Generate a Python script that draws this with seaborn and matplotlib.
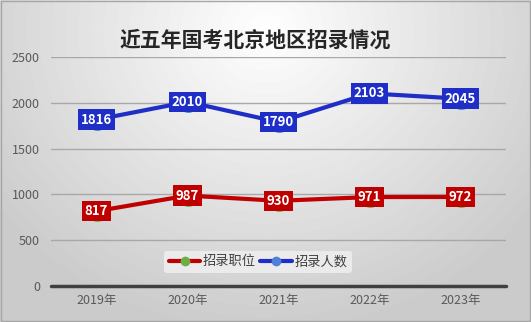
import numpy as np
import pandas as pd
import matplotlib
matplotlib.use("Agg")
import matplotlib.pyplot as plt
import seaborn as sns

years = ["2019年", "2020年", "2021年", "2022年", "2023年"]
positions = [817, 987, 930, 971, 972]    # 招录职位
people = [1816, 2010, 1790, 2103, 2045]  # 招录人数
series_names = ["招录职位", "招录人数"]
y_ticks = [0, 500, 1000, 1500, 2000, 2500]

sns.set_theme(style="white")
plt.rcParams["font.family"] = ["Noto Sans CJK SC", "DejaVu Sans"]

df = pd.DataFrame({
    "year": years * 2,
    "value": positions + people,
    "series": [series_names[0]] * len(years) + [series_names[1]] * len(years),
})
df["x"] = np.tile(np.arange(len(years)), 2)

fig = plt.figure(figsize=(5.31, 3.22), dpi=100)

# radial grey background
bg = fig.add_axes([0, 0, 1, 1], zorder=-10)
yy, xx = np.mgrid[0:322, 0:531]
r = np.sqrt(((xx - 265) / 330.0) ** 2 + ((yy - 30) / 300.0) ** 2)
shade = np.clip(1.0 - 0.2 * r, 0.8, 1.0)
bg.imshow(shade, cmap="gray", vmin=0, vmax=1, aspect="auto",
          extent=[0, 1, 0, 1], origin="upper")
bg.set_xlim(0, 1); bg.set_ylim(0, 1)
bg.axis("off")
bg.add_patch(plt.Rectangle((0.001, 0.002), 0.997, 0.995, fill=False,
                           edgecolor="#a6a6a6", lw=1.0, transform=bg.transAxes))

ax = fig.add_axes([51 / 531, 1 - 286 / 322, 455 / 531, 229 / 322])
ax.patch.set_alpha(0)

line_colors = {"招录职位": "#c00000", "招录人数": "#1f2ec6"}
marker_colors = {"招录职位": "#70ad47", "招录人数": "#4f7fd6"}

for name in series_names:
    sub = df[df["series"] == name]
    sns.lineplot(data=sub, x="x", y="value", ax=ax, color=line_colors[name],
                 lw=3, marker="o", markersize=15,
                 markerfacecolor=marker_colors[name], markeredgewidth=0,
                 label=name, zorder=3)
    for xv, v in zip(sub["x"], sub["value"]):
        ax.text(xv, v, str(v), ha="center", va="center", color="white",
                fontsize=9.5, fontweight="bold", zorder=5,
                bbox=dict(boxstyle="square,pad=0.25", fc=line_colors[name],
                          ec="none"))

ax.set_xlim(-0.5, len(years) - 0.5)
ax.set_ylim(0, 2500)
ax.set_yticks(y_ticks)
ax.set_yticklabels([str(t) for t in y_ticks])
ax.set_xticks(range(len(years)))
ax.set_xticklabels(years)
ax.set_xlabel(""); ax.set_ylabel("")
for t in y_ticks[1:]:
    ax.axhline(t, color="#a8a8a8", lw=1, zorder=1)
ax.axhline(0, color="#404040", lw=2.5, zorder=2, clip_on=False)
for s in ax.spines.values():
    s.set_visible(False)
ax.tick_params(axis="both", length=0, labelsize=9, colors="#595959", pad=6)
ax.tick_params(axis="y", pad=8)

leg = ax.legend(loc="center", bbox_to_anchor=(0.455, 0.105), ncol=2,
                frameon=True, fontsize=9.5, handlelength=2.4,
                columnspacing=0.3, handletextpad=0.2, borderpad=0.35)
leg.get_frame().set_facecolor("#efefef")
leg.get_frame().set_edgecolor("none")
leg.get_frame().set_alpha(0.85)
for h in leg.legend_handles:
    h.set_markersize(7)
for txt in leg.get_texts():
    txt.set_color("#404040")

fig.text(255 / 531, 1 - 40 / 322, "近五年国考北京地区招录情况", ha="center",
         va="center", fontsize=15, fontweight="bold", color="#262626")

fig.savefig("out.png", dpi=100)
